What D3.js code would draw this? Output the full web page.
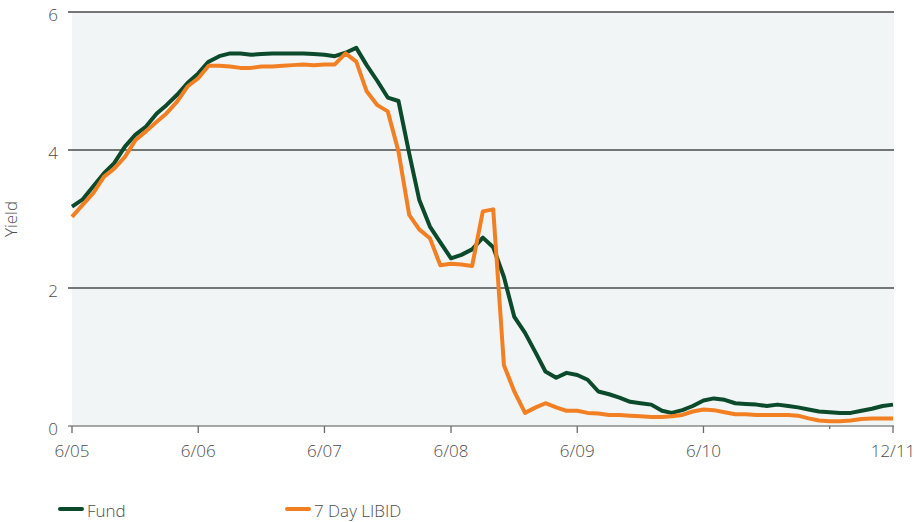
<!DOCTYPE html>
<html>
<head>
<meta charset="utf-8">
<script src="https://cdn.jsdelivr.net/npm/d3@7"></script>
<style>
  body { margin: 0; background: #fff; }
  text { font-family: "Open Sans", "Lato", sans-serif; font-weight: 300; fill: #4d4d4d; }
</style>
</head>
<body>
<svg id="chart" width="918" height="522"></svg>
<script>
// meses desde 6/05 hasta 12/11
var meses = d3.timeMonth.range(new Date(2005, 5, 1), new Date(2012, 0, 1));

var fund = [
  3.18, 3.28, 3.47, 3.66, 3.81, 4.05, 4.22, 4.34, 4.53, 4.65, 4.80, 4.97,
  5.11, 5.28, 5.36, 5.40, 5.40, 5.38, 5.39, 5.40, 5.40, 5.40, 5.40, 5.39,
  5.38, 5.36, 5.41, 5.48, 5.23, 5.00, 4.76, 4.71, 3.95, 3.28, 2.89, 2.66,
  2.43, 2.48, 2.56, 2.73, 2.59, 2.16, 1.58, 1.35, 1.06, 0.79, 0.70, 0.77,
  0.74, 0.67, 0.50, 0.46, 0.41, 0.35, 0.33, 0.31, 0.22, 0.19, 0.23, 0.29,
  0.37, 0.40, 0.38, 0.33, 0.32, 0.31, 0.29, 0.31, 0.29, 0.27, 0.24, 0.21,
  0.20, 0.19, 0.19, 0.22, 0.25, 0.29, 0.31
];

var libid = [
  3.03, 3.20, 3.37, 3.61, 3.73, 3.90, 4.14, 4.27, 4.41, 4.53, 4.70, 4.92,
  5.04, 5.22, 5.22, 5.21, 5.19, 5.19, 5.21, 5.21, 5.22, 5.23, 5.24, 5.23,
  5.24, 5.24, 5.40, 5.28, 4.85, 4.65, 4.56, 3.98, 3.06, 2.85, 2.72, 2.33,
  2.35, 2.34, 2.32, 3.11, 3.14, 0.88, 0.50, 0.19, 0.27, 0.33, 0.27, 0.22,
  0.22, 0.19, 0.18, 0.16, 0.16, 0.15, 0.14, 0.13, 0.13, 0.14, 0.16, 0.21,
  0.24, 0.23, 0.20, 0.17, 0.17, 0.16, 0.16, 0.16, 0.16, 0.15, 0.11, 0.08,
  0.07, 0.07, 0.08, 0.10, 0.11, 0.11, 0.11
];

var yTicks = [0, 2, 4, 6];
var xTickFechas = [new Date(2005, 5, 1), new Date(2006, 5, 1), new Date(2007, 5, 1),
                   new Date(2008, 5, 1), new Date(2009, 5, 1), new Date(2010, 5, 1),
                   new Date(2011, 11, 1)];
var xTickTextos = ["6/05", "6/06", "6/07", "6/08", "6/09", "6/10", "12/11"];
var xTickMenor = [new Date(2011, 5, 1)];

var series = [
  { nombre: "Fund", valores: fund, color: "#0b4a2b" },
  { nombre: "7 Day LIBID", valores: libid, color: "#f28023" }
];

var margin = {top: 12, right: 25, bottom: 96, left: 72};
var width = 893 - margin.left;
var height = 426 - margin.top;

var svg = d3.select("#chart")
  .append("g")
  .attr("transform", "translate(" + margin.left + "," + margin.top + ")");

var x = d3.scaleTime()
  .domain([meses[0], meses[meses.length - 1]])
  .range([0, width]);

var y = d3.scaleLinear()
  .domain([0, 6])
  .range([height, 0]);

// fondo
svg.append("rect")
  .attr("x", 0)
  .attr("y", 0)
  .attr("width", width + 1)
  .attr("height", height)
  .attr("fill", "#f1f5f6");

// lineas de grilla
svg.selectAll(".grid")
  .data(yTicks.filter(function(d) { return d > 0; }))
  .enter().append("line")
  .attr("class", "grid")
  .attr("x1", -4)
  .attr("x2", width + 1)
  .attr("y1", function(d) { return y(d); })
  .attr("y2", function(d) { return y(d); })
  .attr("stroke", "#4a4a4a")
  .attr("stroke-width", 1.3);

// eje x
svg.append("line")
  .attr("x1", -4)
  .attr("x2", width + 1)
  .attr("y1", y(0))
  .attr("y2", y(0))
  .attr("stroke", "#8a8a8a")
  .attr("stroke-width", 1.5);

svg.selectAll(".tick-x")
  .data(xTickFechas)
  .enter().append("line")
  .attr("class", "tick-x")
  .attr("x1", function(d) { return x(d); })
  .attr("x2", function(d) { return x(d); })
  .attr("y1", y(0))
  .attr("y2", y(0) + 7)
  .attr("stroke", "#6a6a6a")
  .attr("stroke-width", 1.3);

svg.selectAll(".tick-menor")
  .data(xTickMenor)
  .enter().append("line")
  .attr("class", "tick-menor")
  .attr("x1", function(d) { return x(d); })
  .attr("x2", function(d) { return x(d); })
  .attr("y1", y(0))
  .attr("y2", y(0) + 3)
  .attr("stroke", "#6a6a6a")
  .attr("stroke-width", 1.3);

svg.selectAll(".etiqueta-x")
  .data(xTickFechas)
  .enter().append("text")
  .attr("class", "etiqueta-x")
  .attr("x", function(d) { return x(d); })
  .attr("y", y(0) + 31)
  .attr("text-anchor", "middle")
  .attr("font-size", "17px")
  .text(function(d, i) { return xTickTextos[i]; });

svg.selectAll(".etiqueta-y")
  .data(yTicks)
  .enter().append("text")
  .attr("class", "etiqueta-y")
  .attr("x", -14)
  .attr("y", function(d) { return y(d) + 9; })
  .attr("text-anchor", "end")
  .attr("font-size", "17px")
  .text(function(d) { return d; });

svg.append("text")
  .attr("transform", "translate(" + (-55) + "," + (height / 2) + ") rotate(-90)")
  .attr("text-anchor", "middle")
  .attr("font-size", "17px")
  .text("Yield");

// lineas
var linea = d3.line()
  .x(function(d, i) { return x(meses[i]); })
  .y(function(d) { return y(d); });

svg.selectAll(".serie")
  .data(series)
  .enter().append("path")
  .attr("class", "serie")
  .attr("d", function(d) { return linea(d.valores); })
  .attr("fill", "none")
  .attr("stroke", function(d) { return d.color; })
  .attr("stroke-width", 4)
  .attr("stroke-linejoin", "round");

// leyenda
var leyenda = d3.select("#chart").selectAll(".leyenda")
  .data(series)
  .enter().append("g")
  .attr("class", "leyenda")
  .attr("transform", function(d, i) { return "translate(" + (60 + i * 227) + ",509)"; });

leyenda.append("line")
  .attr("x1", 0)
  .attr("x2", 22)
  .attr("stroke", function(d) { return d.color; })
  .attr("stroke-width", 4)
  .attr("stroke-linecap", "round");

leyenda.append("text")
  .attr("x", 27)
  .attr("y", 8)
  .attr("font-size", "17px")
  .text(function(d) { return d.nombre; });
</script>
</body>
</html>
